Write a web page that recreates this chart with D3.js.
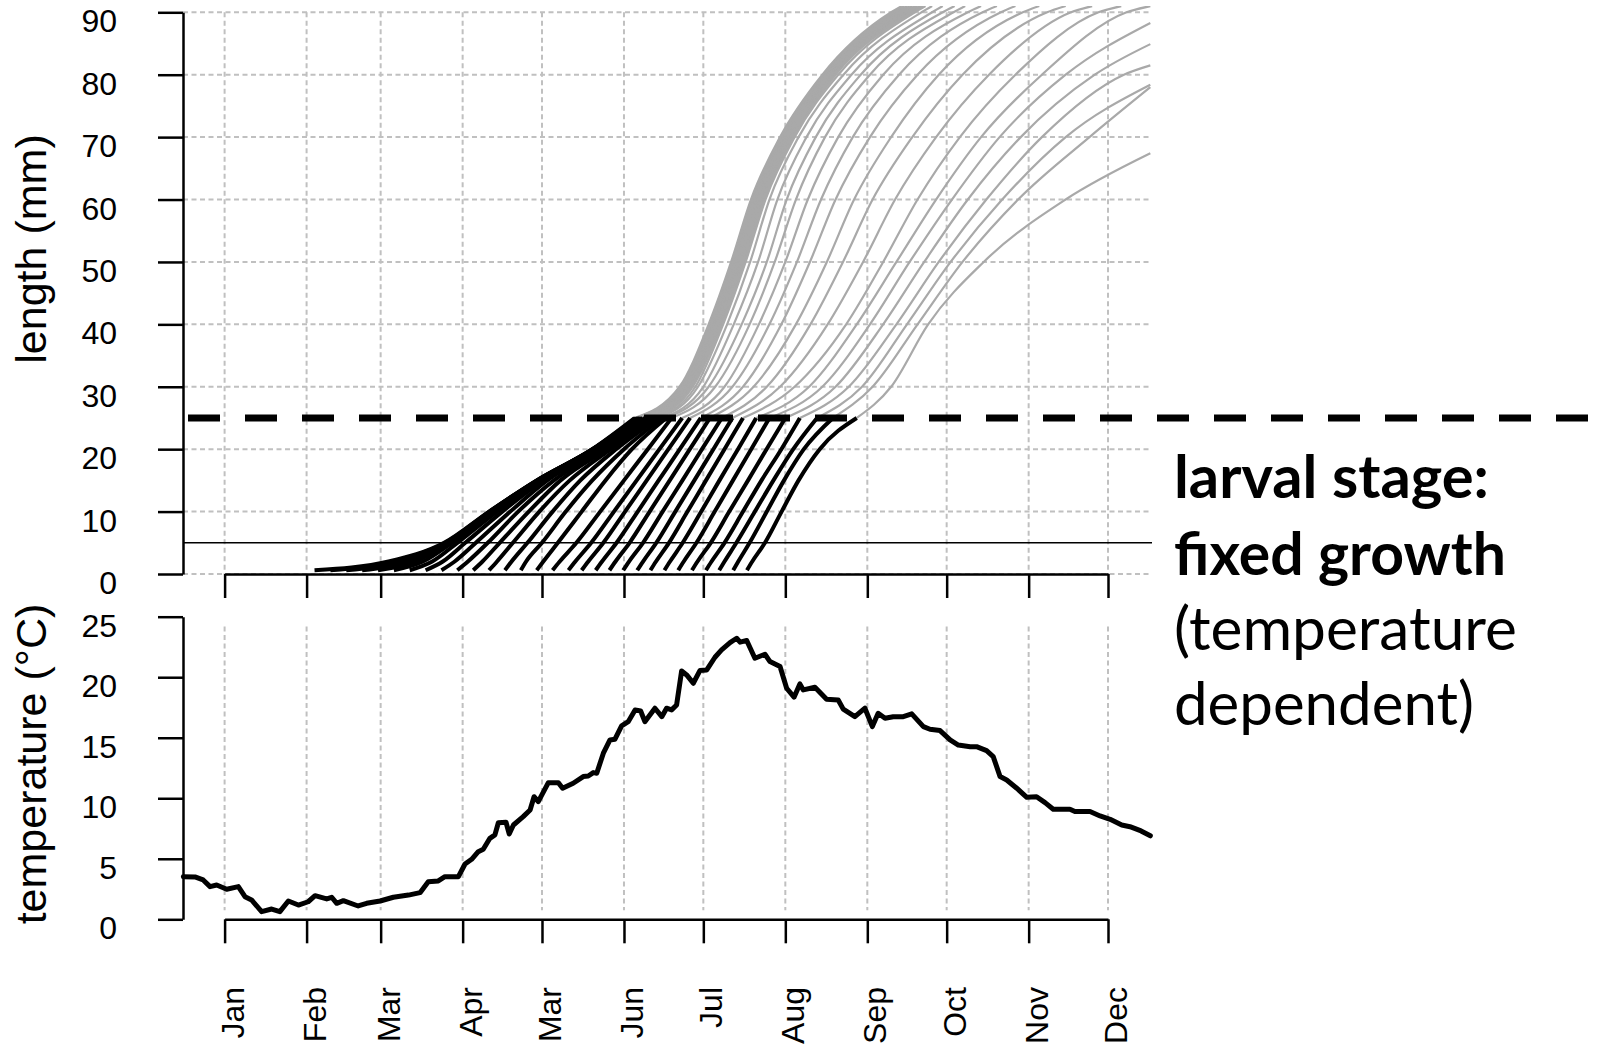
<!DOCTYPE html>
<html><head><meta charset="utf-8">
<script src="https://cdn.jsdelivr.net/npm/d3@7/dist/d3.min.js"></script>
<style>body{margin:0;background:#fff}</style>
</head><body>
<svg id="chart" width="1608" height="1049"></svg>
<script>
// ---------- data ----------
const monthDays = [0,31,59,90,120,151,181,212,243,273,304,334];
const monthLabels = ["Jan","Feb","Mar","Apr","Mar","Jun","Jul","Aug","Sep","Oct","Nov","Dec"];
const lengthTicks = [0,10,20,30,40,50,60,70,80,90];
const tempTicks = [0,5,10,15,20,25];

// temperature (day of year, deg C)
const tempDay = [-15.6,-11.2,-8.1,-5.5,-3.0,0.8,5.2,7.7,10.2,14.0,17.8,20.9,24.1,27.9,31.6,34.2,38.6,40.5,42.4,44.9,50.5,53.7,58.8,63.8,69.5,73.9,77.0,80.8,83.3,88.4,90.9,93.4,95.9,97.8,100.3,102.2,103.5,106.4,107.6,109.2,112.9,115.5,117.0,118.6,122.4,126.2,127.8,131.8,135.6,137.5,139.4,140.7,143.2,145.7,147.6,150.1,152.6,155.2,157.3,158.9,162.7,165.3,167.1,169.0,170.9,172.8,174.7,177.2,179.7,182.3,185.4,187.9,191.1,193.6,194.9,197.4,200.5,204.3,206.2,210.0,212.5,215.3,217.5,218.8,223.2,227.6,232.0,233.9,238.3,242.1,244.9,247.1,249.7,252.8,256.6,259.8,264.2,266.7,270.5,274.3,277.4,281.9,284.3,288.1,290.6,293.2,295.7,299.5,303.3,307.0,310.2,313.3,319.6,321.5,327.2,331.0,334.8,339.2,342.3,346.5,350];
const tempVal = [3.52,3.5,3.25,2.7,2.83,2.48,2.7,1.87,1.6,0.63,0.85,0.63,1.51,1.18,1.45,1.95,1.68,1.82,1.32,1.54,1.1,1.32,1.51,1.82,2.0,2.2,3.1,3.17,3.52,3.52,4.57,4.96,5.59,5.79,6.69,6.97,7.98,8.02,7.05,7.79,8.48,9.03,10.13,9.72,11.29,11.29,10.83,11.24,11.79,11.84,12.12,12.07,13.72,14.82,14.88,15.98,16.33,17.3,17.21,16.33,17.44,16.74,17.44,17.3,17.71,20.52,20.19,19.5,20.55,20.6,21.65,22.26,22.86,23.22,22.9,23.03,21.57,21.9,21.29,20.88,19.09,18.35,19.45,18.95,19.17,18.18,18.12,17.36,16.74,17.44,15.92,17.02,16.61,16.74,16.74,16.97,15.92,15.7,15.59,14.82,14.4,14.26,14.26,13.93,13.44,11.79,11.51,10.83,10.08,10.13,9.64,9.09,9.09,8.9,8.9,8.54,8.26,7.79,7.65,7.3,6.9];

// larval stage (black): day at which each cohort reaches these lengths
const larvalLevels = [0.6,2,5,10,15,20,25];
const larvalDays = [
 [34,62,83,100,118,139,155],[40,64,83.5,100.1,118.1,139.1,155.5],[46,67,84,100.3,118.2,139.2,156],
 [52,69.5,84.5,100.5,118.3,139.3,156.5],[58,72,85,101,118.5,139.5,157],[64,75,86,102,119,140,157.5],
 [70,78.5,88,103,119.5,140.5,158],[76,82.5,91,105,120.5,141,159],[82,87,95,108,122,142,160],
 [88,92,99.5,111,124.5,143,161],[94,97.5,104,115,127,144.5,162],[100,103,109,119,130.5,146,163],
 [106,108.5,114.5,124,134.5,148,164],[112,114,120,129,139,151,165.5],[118,120.5,126,135,144,154,167],
 [124,126.7,133,142,151,160,169],[130,132.6,138.6,147.2,155.8,164.4,173],[135,137.5,143.2,151.4,159.6,167.8,176],
 [140.3,142.7,148.2,156.2,164.1,172.1,180],[145.5,147.8,153.1,160.7,168.3,175.9,183.5],[150.7,152.9,158.2,165.6,173.1,180.5,188],
 [156,158.2,163.2,170.4,177.6,184.8,192],[161,163.1,168,175,182,189,196],[166.3,168.4,173.2,180.2,187.1,194.1,201],
 [171.5,173.6,178.4,185.3,192.2,199.1,206],[176.7,178.8,183.8,190.8,197.9,204.9,212],[182,184.1,189,196,203,210.5,217.5],
 [187,189,193.5,200.5,207.5,215,224],[192.3,194.2,198.5,205,211.5,219,230],[197.5,199.5,204.3,210.6,217,225,239]
];

// juvenile stage (grey): day at which each cohort reaches these lengths
const juvenileLevels = [25,30,40,50,60,70,80,90,91];
const juvenileDays = [
 [155,172,183,191.5,199,210,226,252,256],[155.5,172.5,183.5,192,199.5,210.5,226.5,253,257],
 [156,173,184,192.5,200,211,227,254,258],[156.5,173.5,184.5,193,200.5,211.5,227.5,255,259],
 [157,174,185,193.5,201,212,228,256,260],[157.5,174.5,185.5,194,201.5,212.5,228.5,257,261],
 [158,175,186,194.5,202,213,229,257.5,261.5],[159,175.5,186.5,195,202.5,213.5,229.5,258,262],
 [160,176,187,195.5,203,214,230,259,263],[161,176.5,187.5,196,203.5,214.5,230.5,259.5,263.5],
 [162,177,188,196.5,204,215,231,260,264],[163,178,188.5,197,204.5,215.5,232,261,265],
 [164,179,190,198.7,206,217,234,263.5,267.5],[165.5,181,192.5,201.7,209,220,237,267.5,271.5],
 [167,183,195.5,205,212.5,223.5,240.5,271.5,276],[169,185.5,198.5,208,216,227,244,275.6,280],
 [173,189,202,212,220.5,232,249,281,286],[176,192,206,216.4,225.5,237.5,255,286.6,292],
 [180,196,210.5,221.3,231,244,262,293.5,299],[183.5,200,216,227.7,238,252,270,301.8,308],
 [188,205,221.5,233.8,245,260,279,311,318],[192,210,228,241.4,253.5,269,289,320,328],
 [196,215.5,235,249,262,278,299,330.4,339],[201,221,239,254,269,286,309,341,350],
 [206,226,244,259,275,293,318,null,null],[212,231,249,264.5,281,301,329,null,null],
 [217.5,236,254,270,288,309,340,null,null],[224,241,258,274.5,294,318,null,null,null],
 [230,245,262,279,300,327,null,null,null],[239,252,266,287,318,null,null,null,null]
];
const lastDay = 350;
const juvenileEnd = [null,null,null,null,null,null,null,null,null,null,null,null,null,null,null,null,null,null,null,null,null,null,null,null,88.3,84.9,81.5,78.4,78.0,67.4];

const larvalThreshold = 25;
const refLength = 5;
const textLines = [
  {t:"larval stage:", bold:true},
  {t:"fixed growth", bold:true},
  {t:"(temperature", bold:false},
  {t:"dependent)", bold:false}
];

// ---------- drawing ----------
const svg = d3.select("#chart");
svg.append("rect").attr("width",1608).attr("height",1049).attr("fill","#fff");
const FONT = "'Liberation Sans', Arial, Helvetica, sans-serif";

const x = d3.scaleLinear().domain([0,334]).range([224.6,1108]);
const yL = d3.scaleLinear().domain([0,90]).range([574,12.3]);
const yT = d3.scaleLinear().domain([0,25]).range([919.3,616.7]);
const plotLeft = 183, plotRight = 1149;

const gridStyle = s => s.attr("stroke","#c0c0c0").attr("stroke-width",2).attr("stroke-dasharray","5,3.5").attr("fill","none");

// upper grid
const gU = svg.append("g");
gU.selectAll("line.h").data(lengthTicks).join("line").attr("class","h")
  .attr("x1",plotLeft).attr("x2",plotRight).attr("y1",d=>yL(d)).attr("y2",d=>yL(d)).call(gridStyle);
gU.selectAll("line.v").data(monthDays).join("line").attr("class","v")
  .attr("x1",d=>x(d)).attr("x2",d=>x(d)).attr("y1",yL(90)).attr("y2",yL(0)).call(gridStyle);
// lower grid
svg.append("g").selectAll("line").data(monthDays).join("line")
  .attr("x1",d=>x(d)).attr("x2",d=>x(d)).attr("y1",yT(24.2)).attr("y2",yT(0.75)).call(gridStyle);

// curves
svg.append("clipPath").attr("id","clipU").append("rect")
  .attr("x",plotLeft).attr("y",6).attr("width",plotRight-plotLeft+4).attr("height",yL(0)-6+4);
const gC = svg.append("g").attr("clip-path","url(#clipU)");
const lineL = d3.line().x(d=>x(d[0])).y(d=>yL(d[1])).curve(d3.curveMonotoneX);

juvenileDays.forEach((row,i)=>{
  const pts = [];
  row.forEach((d,j)=>{ if(d!=null) pts.push([d, juvenileLevels[j]]); });
  if (juvenileEnd[i]!=null) pts.push([lastDay, juvenileEnd[i]]);
  gC.append("path").attr("d",lineL(pts)).attr("fill","none")
    .attr("stroke","#a9a9a9").attr("stroke-width",2.2).attr("stroke-linejoin","round");
});
larvalDays.forEach(row=>{
  const pts = row.map((d,j)=>[d, larvalLevels[j]]);
  gC.append("path").attr("d",lineL(pts)).attr("fill","none")
    .attr("stroke","#000").attr("stroke-width",4).attr("stroke-linejoin","round");
});

// reference line at 5 mm
svg.append("line").attr("x1",plotLeft).attr("x2",1152).attr("y1",yL(refLength)).attr("y2",yL(refLength))
  .attr("stroke","#000").attr("stroke-width",1.6);
// threshold dashed line at 25 mm
svg.append("line").attr("x1",188).attr("x2",1596).attr("y1",yL(larvalThreshold)).attr("y2",yL(larvalThreshold))
  .attr("stroke","#000").attr("stroke-width",7).attr("stroke-dasharray","32,25");

// temperature line
const lineT = d3.line().x((d,i)=>x(tempDay[i])).y((d,i)=>yT(tempVal[i]));
svg.append("path").attr("d",lineT(tempVal)).attr("fill","none").attr("stroke","#000")
  .attr("stroke-width",5).attr("stroke-linejoin","round").attr("stroke-linecap","round");

// axes
function styleAxis(g){
  g.select(".domain").attr("stroke","#000").attr("stroke-width",2.5);
  g.selectAll(".tick line").attr("stroke","#000").attr("stroke-width",2.5);
  g.selectAll(".tick text").attr("fill","#000").style("font-family",FONT).style("font-size","32px");
}
svg.append("g").attr("transform",`translate(${plotLeft},0)`)
  .call(d3.axisLeft(yL).tickValues(lengthTicks).tickSize(25).tickSizeOuter(0).tickPadding(41))
  .call(styleAxis)
  .selectAll(".tick text").attr("dy","0.61em");
svg.append("g").attr("transform",`translate(${plotLeft},0)`)
  .call(d3.axisLeft(yT).tickValues(tempTicks).tickSize(25).tickSizeOuter(0).tickPadding(41))
  .call(styleAxis)
  .selectAll(".tick text").attr("dy","0.61em");
svg.append("g").attr("transform",`translate(0,${yL(0)})`)
  .call(d3.axisBottom(x).tickValues(monthDays).tickSize(24).tickSizeOuter(0).tickFormat(""))
  .call(styleAxis);
const axB = svg.append("g").attr("transform",`translate(0,${yT(0)})`)
  .call(d3.axisBottom(x).tickValues(monthDays).tickSize(24).tickSizeOuter(0).tickFormat((d,i)=>monthLabels[i]))
  .call(styleAxis);
axB.selectAll(".tick text").attr("transform","rotate(-90)").attr("text-anchor","end")
  .attr("x",-(987-yT(0))).attr("y",18.5).attr("dy",0);

// axis titles
svg.append("text").attr("transform","translate(46,249) rotate(-90)").attr("text-anchor","middle")
  .style("font-family",FONT).style("font-size","43px").text("length (mm)");
svg.append("text").attr("transform","translate(46,764) rotate(-90)").attr("text-anchor","middle")
  .style("font-family",FONT).style("font-size","43px").text("temperature (°C)");

// annotation
const lens = [315,332,343,300];
const bases = [498,575,650,725];
textLines.forEach((l,i)=>{
  svg.append("text").attr("x",1174).attr("y",bases[i])
    .style("font-family","Lato, 'Open Sans', sans-serif").style("font-size","60px")
    .style("font-weight",l.bold?"700":"400")
    .attr("textLength",lens[i]).attr("lengthAdjust","spacingAndGlyphs")
    .text(l.t);
});
</script>
</body></html>
